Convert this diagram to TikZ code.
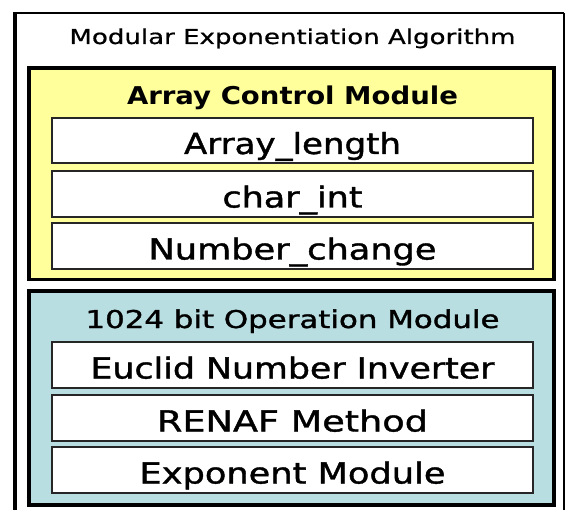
\documentclass[tikz,border=0pt]{standalone}
\usepackage{fontspec}
\setmainfont{DejaVu Sans}
\newfontfamily\heavyfont[FakeBold=1.2]{DejaVu Sans}
\newfontfamily\medfont[FakeBold=0.6]{DejaVu Sans}
\usepackage{graphicx}
\definecolor{ylw}{HTML}{FFFF9C}
\definecolor{cyn}{HTML}{B8DEE2}
\newsavebox\fitbox
\newcommand\fitw[2]{\sbox\fitbox{#2}\pgfmathsetmacro\fitsx{#1/\the\wd\fitbox}\scalebox{\fitsx}[1]{\usebox\fitbox}}
\tikzset{
  modbox/.style={draw=black, line width=3.5pt, minimum width=525pt, inner sep=0pt},
  itembox/.style={draw=black!85, fill=white, line width=1.5pt, minimum width=481pt,
    inner sep=0pt, text height=27pt, text depth=0pt, font=\heavyfont\fontsize{29}{34}\selectfont},
  maintitle/.style={anchor=base, inner sep=0pt, font=\medfont\fontsize{20.5}{24}\selectfont},
  modtitle/.style={anchor=base, inner sep=0pt, font=\heavyfont\fontsize{24.5}{29}\selectfont},
}
\begin{document}
\begin{tikzpicture}[x=1pt,y=-1pt]
\useasboundingbox (0,0) rectangle (567,510);
\fill[white] (0,0) rectangle (567,510);
% outer frame (bottom edge lies below the picture)
\coordinate (olb) at (15,520);
\coordinate (olt) at (15,13);
\coordinate (ort) at (564,13);
\coordinate (orb) at (564,520);
\draw[line width=4pt] (olb) -- (olt);
\draw[line width=2pt] (13,13) -- (ort);
\draw[line width=1.5pt] (ort) -- (orb);
\node[maintitle] (title) at (292.5,44) {\fitw{446}{Modular Exponentiation Algorithm}};
% Array Control Module
\node[modbox, fill=ylw, minimum height=211.5pt] (acm) at (291.5,173.75) {};
\node[modtitle, font=\fontsize{24.5}{29}\selectfont\bfseries] (acmt) at (292.5,105) {\fitw{331}{Array Control Module}};
\node[itembox, minimum height=45pt] (al) at (292.5,140.5) {\fitw{217}{Array\_length}};
\node[itembox, minimum height=46pt] (ci) at (292.5,194) {\fitw{140}{char\_int}};
\node[itembox, minimum height=46pt] (nc) at (292.5,246) {\fitw{288}{Number\_change}};
% 1024 bit Operation Module
\node[modbox, fill=cyn, minimum height=214pt] (bom) at (291.5,398) {};
\node[modtitle] (bomt) at (292.5,328) {\fitw{414}{1024 bit Operation Module}};
\node[itembox, minimum height=46pt] (eu) at (292.5,365) {\fitw{404}{Euclid Number Inverter}};
\node[itembox, minimum height=46pt] (re) at (292.5,418) {\fitw{271}{RENAF Method}};
\node[itembox, minimum height=46pt] (ex) at (292.5,470) {\fitw{306}{Exponent Module}};
\end{tikzpicture}
\end{document}
